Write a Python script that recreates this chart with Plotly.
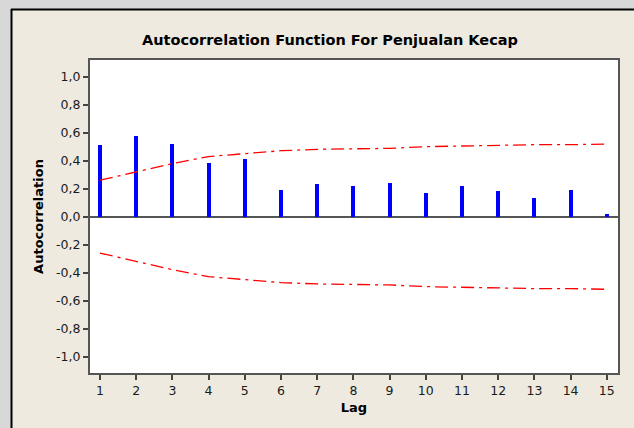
import plotly.graph_objects as go

lags = list(range(1, 16))
acf = [0.514, 0.576, 0.521, 0.381, 0.410, 0.190, 0.231, 0.219, 0.238, 0.169, 0.217, 0.184, 0.136, 0.190, 0.019]
upper = [0.260, 0.317, 0.379, 0.429, 0.448, 0.471, 0.481, 0.484, 0.488, 0.500, 0.505, 0.507, 0.514, 0.514, 0.519]
lower = [-v for v in upper]
ytick_vals = [1.0, 0.8, 0.6, 0.4, 0.2, 0.0, -0.2, -0.4, -0.6, -0.8, -1.0]
ytick_text = ["1,0", "0,8", "0,6", "0,4", "0,2", "0,0", "-0,2", "-0,4", "-0,6", "-0,8", "-1,0"]

W, H = 634, 428
L, R, T, B = 90, 16, 60, 55
pw, ph = W - L - R, H - T - B

fig = go.Figure()
fig.add_trace(go.Bar(x=lags, y=acf, width=0.11, marker=dict(color="#0000FF", line=dict(width=0)),
                     showlegend=False))
dash = "13px,5px,3px,5px"
fig.add_trace(go.Scatter(x=lags, y=upper, mode="lines", line=dict(color="#FF0000", width=1.3, dash=dash),
                         showlegend=False))
fig.add_trace(go.Scatter(x=lags, y=lower, mode="lines", line=dict(color="#FF0000", width=1.3, dash=dash),
                         showlegend=False))

def px_x(x):
    return (x - L) / pw

def px_y(y):
    return 1 - (y - T) / ph

shapes = [
    # gray outer strips
    dict(type="rect", xref="paper", yref="paper", x0=px_x(-5), x1=px_x(11), y0=px_y(H + 5), y1=px_y(-5),
         fillcolor="#D8D8D8", line=dict(width=0)),
    dict(type="rect", xref="paper", yref="paper", x0=px_x(-5), x1=px_x(W + 5), y0=px_y(9), y1=px_y(-5),
         fillcolor="#D8D8D8", line=dict(width=0)),
    # black border
    dict(type="line", xref="paper", yref="paper", x0=px_x(11.5), x1=px_x(11.5), y0=px_y(9), y1=px_y(H + 5),
         line=dict(color="#000000", width=2)),
    dict(type="line", xref="paper", yref="paper", x0=px_x(11), x1=px_x(W + 5), y0=px_y(9.5), y1=px_y(9.5),
         line=dict(color="#000000", width=2)),
]

fig.update_layout(
    width=W, height=H,
    margin=dict(l=L, r=R, t=T, b=B, pad=0),
    paper_bgcolor="#EEEAE0",
    plot_bgcolor="#FFFFFF",
    bargap=0,
    shapes=shapes,
    title=dict(text="<b>Autocorrelation Function For Penjualan Kecap</b>",
               font=dict(family="DejaVu Sans", size=14.5, color="#000000"),
               x=px_x(330), xanchor="center", xref="paper", y=1 - 40 / H, yanchor="middle"),
    font=dict(family="DejaVu Sans", size=12, color="#1a1a1a"),
)
fig.update_xaxes(range=[0.724, 15.31], tickvals=lags, ticktext=[str(v) for v in lags],
                 ticks="outside", ticklen=5, tickcolor="#444444", tickwidth=1.5,
                 showline=True, linecolor="#555555", linewidth=2, mirror=True,
                 showgrid=False, zeroline=False,
                 title=dict(text="<b>Lag</b>", font=dict(size=13, color="#000000"), standoff=6),
                 tickfont=dict(size=12.5, color="#1a1a1a"))
fig.update_yaxes(range=[-1.117, 1.119], tickvals=ytick_vals, ticktext=ytick_text,
                 ticks="outside", ticklen=5, tickcolor="#444444", tickwidth=1.5,
                 showline=True, linecolor="#555555", linewidth=2, mirror=True,
                 showgrid=False, zeroline=True, zerolinecolor="#555555", zerolinewidth=2,
                 title=dict(text="<b>Autocorrelation</b>", font=dict(size=13, color="#000000"), standoff=10),
                 tickfont=dict(size=12.5, color="#1a1a1a"))

fig.write_html("out.html", config={"displayModeBar": False},
               post_script="document.body.style.margin='0';document.body.style.overflow='hidden';")
